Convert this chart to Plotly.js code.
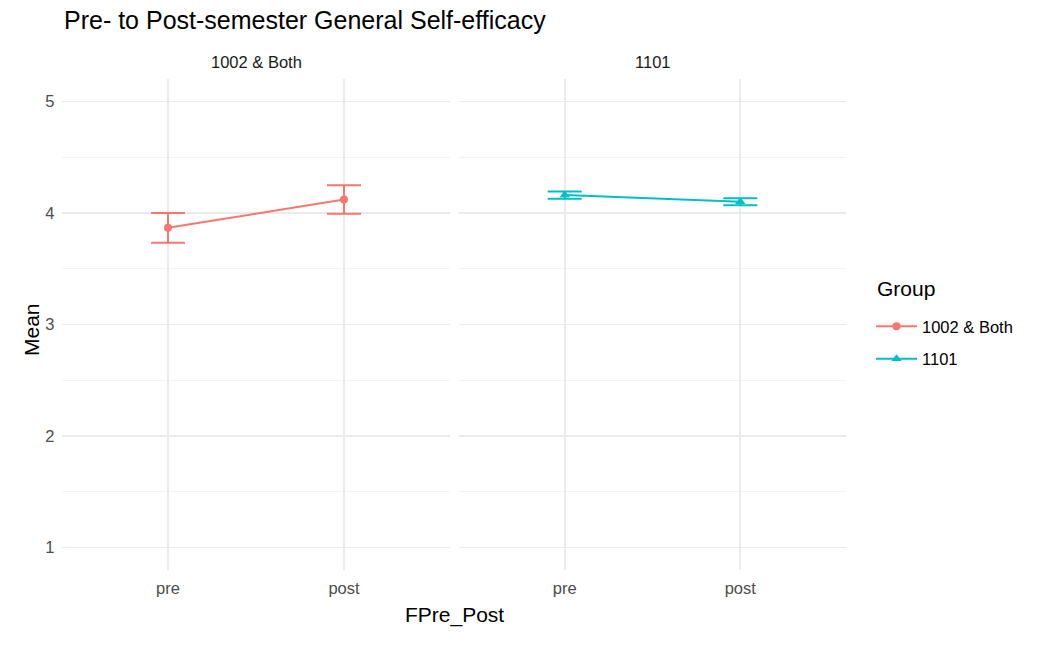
<!DOCTYPE html>
<html>
<head>
<meta charset="utf-8">
<script src="https://cdn.plot.ly/plotly-3.0.1.min.js"></script>
<style>html,body{margin:0;padding:0;background:#fff;}#chart{width:1058px;height:648px;}</style>
</head>
<body>
<div id="chart"></div>
<script>
const timepoints = ["pre", "post"];
const groupA = "1002 & Both";
const groupB = "1101";
const meanA = [3.866, 4.12];
const errA = [0.134, 0.128];
const meanB = [4.16, 4.10];
const errB = [0.032, 0.032];
const yTicks = [1, 2, 3, 4, 5];

const colA = "#F8766D", colB = "#00BFC4";
const grid = "#EBEBEB";
const font = "Liberation Sans, Arial, sans-serif";

const traces = [
  {x: timepoints, y: meanA, xaxis: "x", yaxis: "y", name: groupA, legendgroup: "a", type: "scatter", mode: "lines+markers",
   line: {color: colA, width: 2}, marker: {color: colA, size: 8, symbol: "circle"},
   error_y: {type: "data", array: errA, visible: true, color: colA, thickness: 2, width: 17}},
  {x: timepoints, y: meanB, xaxis: "x2", yaxis: "y", name: groupB, legendgroup: "b", type: "scatter", mode: "lines+markers",
   line: {color: colB, width: 2}, marker: {color: colB, size: 9, symbol: "triangle-up"},
   error_y: {type: "data", array: errB, visible: true, color: colB, thickness: 2, width: 17}}
];

const xBase = {type: "category", categoryorder: "array", categoryarray: timepoints, range: [-0.6, 1.6],
  showgrid: true, gridcolor: grid, gridwidth: 1.6, zeroline: false, showline: false, ticks: "",
  tickfont: {family: font, size: 16.5, color: "#4D4D4D"}, ticklabelstandoff: 6, fixedrange: true};

const layout = {
  width: 1058, height: 648,
  paper_bgcolor: "#fff", plot_bgcolor: "#fff",
  margin: {l: 0, r: 0, t: 79, b: 78},
  font: {family: font},
  title: {text: "Pre- to Post-semester General Self-efficacy", xref: "container", yref: "container",
    x: 64/1058, xanchor: "left", y: 1 - 20/648, yanchor: "middle",
    font: {family: font, size: 25, color: "#000"}},
  xaxis: Object.assign({}, xBase, {domain: [62.4/1058, 449.6/1058], anchor: "y"}),
  xaxis2: Object.assign({}, xBase, {domain: [459.4/1058, 845.6/1058], anchor: "y"}),
  yaxis: {range: [0.8, 5.2], tickvals: yTicks, ticktext: yTicks.map(String), showgrid: true, gridcolor: grid,
    gridwidth: 1.6, zeroline: false, showline: false, ticks: "", ticklabelstandoff: 7,
    tickfont: {family: font, size: 16.5, color: "#4D4D4D"},
    minor: {tickvals: [1.5, 2.5, 3.5, 4.5], showgrid: true, gridcolor: "#F2F2F2", gridwidth: 1},
    fixedrange: true},
  showlegend: true,
  legend: {x: 871/1058, xanchor: "left", y: (570 - 309)/491, yanchor: "top",
    font: {family: font, size: 16.5, color: "#000"}, tracegroupgap: 8, itemwidth: 41},
  annotations: [
    {text: "Group", x: 875/1058, xref: "paper", xanchor: "left", y: (570 - 288)/491, yref: "paper", yanchor: "middle",
     showarrow: false, font: {family: font, size: 21, color: "#000"}},
    {text: groupA, x: 0.5, xref: "x domain", y: (570 - 62)/491, yref: "paper", yanchor: "middle", showarrow: false,
     font: {family: font, size: 16.5, color: "#1A1A1A"}},
    {text: groupB, x: 0.5, xref: "x2 domain", y: (570 - 62)/491, yref: "paper", yanchor: "middle", showarrow: false,
     font: {family: font, size: 16.5, color: "#1A1A1A"}},
    {text: "Mean", textangle: -90, x: 31/1058, xref: "paper", xanchor: "center", y: (570 - 330)/491, yref: "paper",
     showarrow: false, font: {family: font, size: 21, color: "#000"}},
    {text: "FPre_Post", x: 454/1058, xref: "paper", y: -(615 - 570)/491, yref: "paper", yanchor: "middle",
     showarrow: false, font: {family: font, size: 21, color: "#000"}}
  ]
};

Plotly.newPlot("chart", traces, layout, {displayModeBar: false, staticPlot: true});
</script>
</body>
</html>
